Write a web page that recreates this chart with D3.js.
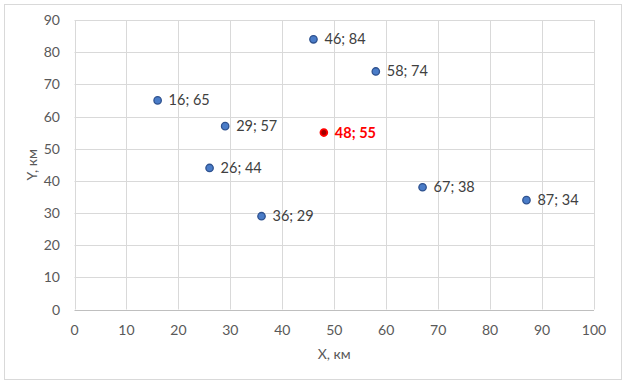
<!DOCTYPE html>
<html><head><meta charset="utf-8">
<script src="https://cdn.jsdelivr.net/npm/d3@7"></script>
<style>body{margin:0;background:#fff;}svg{display:block;}</style>
</head><body>
<svg id="c" width="630" height="384"></svg>
<script>
const xs = [16, 29, 26, 36, 46, 58, 67, 87];
const ys = [65, 57, 44, 29, 84, 74, 38, 34];
const centerX = [48];
const centerY = [55];
const xTicks = [0,10,20,30,40,50,60,70,80,90,100];
const yTicks = [0,10,20,30,40,50,60,70,80,90];
const xTitle = "X, км", yTitle = "Y, км";

const svg = d3.select("#c");
const font = "Lato, 'Open Sans', sans-serif";
svg.append("rect").attr("x",4.5).attr("y",4.5).attr("width",617).attr("height",375)
  .attr("fill","#fff").attr("stroke","#d9d9d9");
const L=74.5,R=594,T=20,B=309.5;
const x = d3.scaleLinear().domain([0,100]).range([L,R]);
const y = d3.scaleLinear().domain([0,90]).range([B,T]);
const g = svg.append("g");
g.selectAll(".vx").data(xTicks).join("line").attr("x1",d=>Math.round(x(d))+0.5).attr("x2",d=>Math.round(x(d))+0.5)
  .attr("y1",T).attr("y2",B).attr("stroke","#d9d9d9");
g.selectAll(".hy").data(yTicks).join("line").attr("y1",d=>Math.round(y(d))+0.5).attr("y2",d=>Math.round(y(d))+0.5)
  .attr("x1",L).attr("x2",R).attr("stroke",d=>d===0?"#bfbfbf":"#d9d9d9");
g.selectAll(".xt").data(xTicks).join("text").attr("x",d=>x(d)).attr("y",335).attr("text-anchor","middle")
  .attr("font-family",font).attr("font-size",14).attr("fill","#595959").text(d=>d);
g.selectAll(".yt").data(yTicks).join("text").attr("x",60).attr("y",d=>y(d)+5).attr("text-anchor","end")
  .attr("font-family",font).attr("font-size",14).attr("fill","#595959").text(d=>d);
svg.append("text").attr("x",x(50)).attr("y",359).attr("text-anchor","middle").attr("font-family",font)
  .attr("font-size",14).attr("fill","#595959").text(xTitle);
svg.append("text").attr("transform",`translate(37,${(T+B)/2}) rotate(-90)`).attr("text-anchor","middle").attr("font-family",font)
  .attr("font-size",14).attr("fill","#595959").text(yTitle);

const pts = xs.map((v,i)=>({x:v,y:ys[i]}));
g.selectAll(".p").data(pts).join("circle").attr("cx",d=>x(d.x)).attr("cy",d=>y(d.y)).attr("r",3.7)
  .attr("fill","#4a7cc8").attr("stroke","#2f528f").attr("stroke-width",1.3);
g.selectAll(".pl").data(pts).join("text").attr("x",d=>x(d.x)+11).attr("y",d=>y(d.y)+5)
  .attr("font-family",font).attr("font-size",14.5).attr("fill","#404040").text(d=>d.x+"; "+d.y);
const cp = centerX.map((v,i)=>({x:v,y:centerY[i]}));
g.selectAll(".c").data(cp).join("circle").attr("cx",d=>x(d.x)).attr("cy",d=>y(d.y)).attr("r",3.4)
  .attr("fill","#a00000").attr("stroke","#ff0000").attr("stroke-width",1.8);
g.selectAll(".cl").data(cp).join("text").attr("x",d=>x(d.x)+11).attr("y",d=>y(d.y)+5)
  .attr("font-family",font).attr("font-size",14.5).attr("font-weight","bold").attr("fill","#ff0000").text(d=>d.x+"; "+d.y);
</script>
</body></html>
